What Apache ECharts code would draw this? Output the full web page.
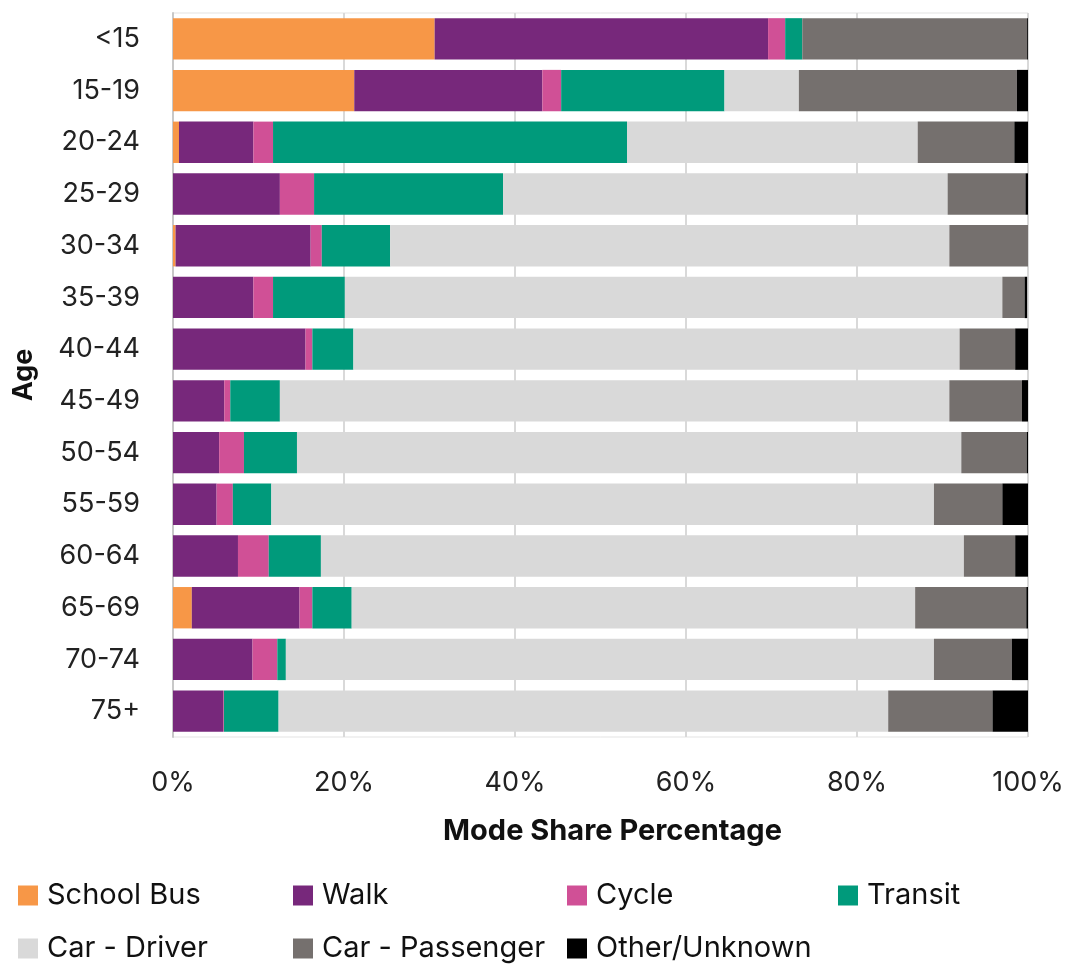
<!DOCTYPE html>
<html>
<head>
<meta charset="utf-8">
<script src="https://cdn.jsdelivr.net/npm/echarts@6/dist/echarts.min.js"></script>
<style>
  html, body { margin: 0; padding: 0; background: #fff; }
  #chart { width: 1068px; height: 964px; }
</style>
</head>
<body>
<div id="chart"></div>
<script>
var ages = ['<15', '15-19', '20-24', '25-29', '30-34', '35-39', '40-44', '45-49', '50-54', '55-59', '60-64', '65-69', '70-74', '75+'];

// mode shares in percent, one value per age group
var schoolBus    = [30.6, 21.2, 0.7, 0, 0.3, 0, 0, 0, 0, 0, 0, 2.2, 0, 0];
var walk         = [39.0, 22.0, 8.7, 12.5, 15.8, 9.4, 15.5, 6.0, 5.4, 5.1, 7.6, 12.6, 9.3, 5.85];
var cycle        = [2.0, 2.2, 2.3, 4.0, 1.3, 2.3, 0.8, 0.7, 2.9, 1.9, 3.6, 1.5, 2.9, 0.1];
var transit      = [2.0, 19.1, 41.4, 22.1, 8.0, 8.4, 4.8, 5.8, 6.2, 4.5, 6.1, 4.6, 1.0, 6.4];
var carDriver    = [0, 8.7, 34.0, 52.0, 65.4, 76.9, 70.9, 78.3, 77.7, 77.5, 75.2, 65.9, 75.8, 71.3];
var carPassenger = [26.3, 25.5, 11.3, 9.1, 9.2, 2.6, 6.5, 8.5, 7.65, 8.0, 6.0, 13.0, 9.1, 12.2];
var other        = [0.1, 1.3, 1.6, 0.3, 0, 0.3, 1.5, 0.7, 0.15, 3.0, 1.5, 0.2, 1.9, 4.2];

var modeNames = ['School Bus', 'Walk', 'Cycle', 'Transit', 'Car - Driver', 'Car - Passenger', 'Other/Unknown'];
var modeData = [schoolBus, walk, cycle, transit, carDriver, carPassenger, other];
var colors = ['#F79747', '#77287B', '#D05096', '#009A7B', '#D9D9D9', '#75706E', '#000000'];

var fontFam = 'Inter, "Liberation Sans", Arial, sans-serif';

var chart = echarts.init(document.getElementById('chart'));

// legend laid out as a 4-column grid, one legend per item
var legendPos = [[13, 876], [288, 876], [562, 876], [833, 876], [13, 929], [288, 929], [562, 929]];
var legends = modeNames.map(function (n, i) {
    return {
        data: [n],
        left: legendPos[i][0],
        top: legendPos[i][1],
        itemWidth: 20,
        itemHeight: 20,
        itemGap: 0,
        icon: 'rect',
        selectedMode: false,
        textStyle: { fontSize: 29, color: '#111', fontFamily: fontFam, padding: [0, 0, 0, 4] }
    };
});

var series = modeNames.map(function (n, i) {
    return {
        name: n,
        type: 'bar',
        stack: 'total',
        barCategoryGap: '20%',
        itemStyle: { color: colors[i] },
        emphasis: { disabled: true },
        data: modeData[i]
    };
});

chart.setOption({
    animation: false,
    color: colors,
    grid: {
        left: 173, right: 40, top: 13, bottom: 227,
        show: true, borderColor: '#e3e3e3', borderWidth: 1
    },
    legend: legends,
    xAxis: {
        type: 'value',
        min: 0,
        max: 100,
        interval: 20,
        axisLine: { show: false },
        axisTick: { show: false },
        splitLine: { lineStyle: { color: '#d9d9d9', width: 2 } },
        axisLabel: {
            formatter: '{value}%',
            fontSize: 27, color: '#222', fontFamily: fontFam, margin: 32
        },
        name: 'Mode Share Percentage',
        nameLocation: 'middle',
        nameGap: 80,
        nameTextStyle: { fontSize: 29, fontWeight: 'bold', color: '#111', fontFamily: fontFam, padding: [0, 0, 0, 24] }
    },
    yAxis: {
        type: 'category',
        data: ages,
        inverse: true,
        axisLine: { lineStyle: { color: '#c8c8c8', width: 2 } },
        axisTick: { show: false },
        axisLabel: { fontSize: 27, color: '#222', fontFamily: fontFam, margin: 33 },
        name: 'Age',
        nameLocation: 'middle',
        nameGap: 136,
        nameRotate: 90,
        nameTextStyle: { fontSize: 27, fontWeight: 'bold', color: '#111', fontFamily: fontFam }
    },
    series: series
});
</script>
</body>
</html>
